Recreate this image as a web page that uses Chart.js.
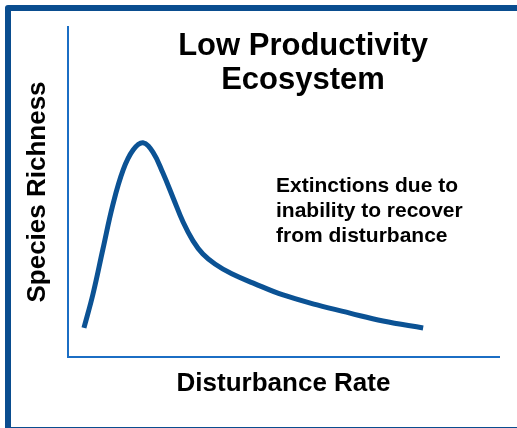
<!DOCTYPE html>
<html>
<head>
<meta charset="utf-8">
<script src="https://cdn.jsdelivr.net/npm/chart.js@4.4.0/dist/chart.umd.min.js"></script>
<style>
  html, body { margin: 0; padding: 0; background: #ffffff; }
  #wrap { position: relative; width: 517px; height: 428px; }
</style>
</head>
<body>
<div id="wrap"><canvas id="chart" width="517" height="428"></canvas></div>
<script>
// Data (arbitrary 0-100 units)
const disturbance = [3.7, 5.8, 8.1, 10.4, 12.8, 15.1, 17.4, 19.7, 22.0, 24.4, 26.7, 29.0, 31.3, 34.1, 38.0, 43.0, 49.9, 57.8, 65.4, 73.1, 82.4];
const richness    = [8.8, 19.1, 32.7, 46.1, 56.7, 62.7, 64.9, 62.1, 55.8, 48.2, 40.9, 35.2, 31.2, 28.2, 25.2, 22.4, 18.8, 15.8, 13.3, 10.9, 8.8];

const titleLines = ['Low Productivity', 'Ecosystem'];
const noteLines = ['Extinctions due to', 'inability to recover', 'from disturbance'];
const xTitle = 'Disturbance Rate';
const yTitle = 'Species Richness';

const FONT = '"Liberation Sans", Arial, sans-serif';
const curveColor = '#0b5294';
const axisColor = '#1b6ec4';
const frameColor = '#0a4d8f';

// Frame + free text drawn around the chart
const decorPlugin = {
  id: 'decor',
  afterDraw(chart) {
    const ctx = chart.ctx;
    ctx.save();
    // outer frame (partly cut off at right and bottom)
    ctx.strokeStyle = frameColor;
    ctx.lineWidth = 6;
    ctx.lineJoin = 'round';
    ctx.strokeRect(8, 8, 520, 422);

    ctx.fillStyle = '#000000';
    ctx.textBaseline = 'middle';
    ctx.font = 'bold 31px ' + FONT;
    ctx.textAlign = 'center';
    titleLines.forEach((t, i) => ctx.fillText(t, 303, 46 + i * 34));

    ctx.font = 'bold 21px ' + FONT;
    ctx.textAlign = 'left';
    noteLines.forEach((t, i) => ctx.fillText(t, 276, 186 + i * 25));
    ctx.restore();
  }
};

const points = disturbance.map((x, i) => ({ x: x, y: richness[i] }));

new Chart(document.getElementById('chart'), {
  type: 'line',
  data: {
    datasets: [{
      data: points,
      borderColor: curveColor,
      borderWidth: 5,
      pointRadius: 0,
      fill: false,
      tension: 0.4
    }]
  },
  options: {
    responsive: false,
    animation: false,
    layout: { padding: { left: 25, right: 18, top: 27, bottom: 31 } },
    plugins: { legend: { display: false }, tooltip: { enabled: false } },
    scales: {
      x: {
        type: 'linear', min: 0, max: 100,
        ticks: { display: false },
        grid: { display: false, drawTicks: false },
        border: { display: true, color: axisColor, width: 2 },
        title: {
          display: true, text: xTitle, color: '#000000',
          font: { family: FONT, size: 26, weight: 'bold', lineHeight: 1 },
          padding: { top: 14, bottom: 0 }
        }
      },
      y: {
        type: 'linear', min: 0, max: 100,
        ticks: { display: false },
        grid: { display: false, drawTicks: false },
        border: { display: true, color: axisColor, width: 2 },
        title: {
          display: true, text: yTitle, color: '#000000',
          font: { family: FONT, size: 26, weight: 'bold', lineHeight: 1 },
          padding: { top: 0, bottom: 17 }
        }
      }
    }
  },
  plugins: [decorPlugin]
});
</script>
</body>
</html>
